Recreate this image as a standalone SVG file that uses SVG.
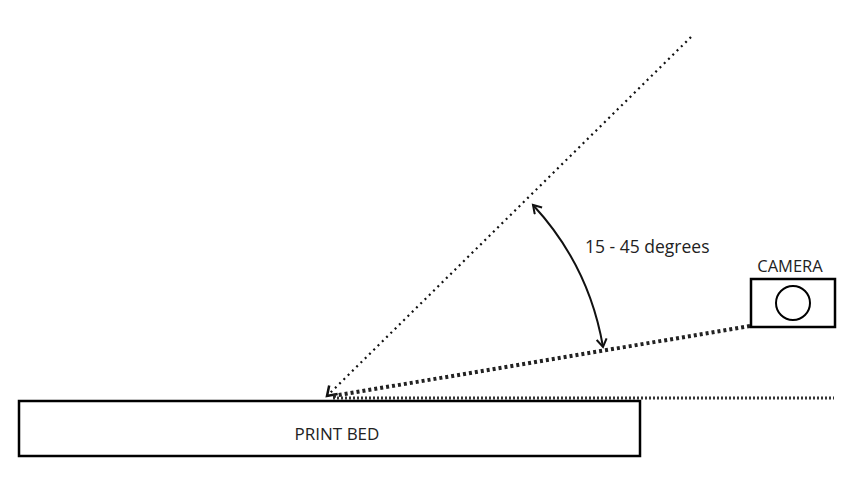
<svg xmlns="http://www.w3.org/2000/svg" width="842" height="478" viewBox="0 0 842 478">
<style>
text{font-family:"Open Sans","Liberation Sans",sans-serif;fill:#222}
.box{fill:#fff;stroke:#000;stroke-width:2.5}
.thin{stroke:#111;stroke-width:2.2;stroke-dasharray:2 4;fill:none}
.thick{stroke:#222;stroke-width:4;stroke-dasharray:3 3;fill:none}
.hline{stroke:#333;stroke-width:3;stroke-dasharray:2 2;fill:none}
.arc{stroke:#111;stroke-width:2;fill:none}
</style>
<defs>
<marker id="chev" markerWidth="12" markerHeight="12" refX="9" refY="6" orient="auto-start-reverse" markerUnits="userSpaceOnUse">
<path d="M1,1 L9,6 L1,11" fill="none" stroke="#111" stroke-width="2"/>
</marker>
<marker id="chev2" markerWidth="16" markerHeight="16" refX="11" refY="8" orient="auto" markerUnits="userSpaceOnUse">
<path d="M2,2 L11,8 L2,14" fill="none" stroke="#111" stroke-width="2.5"/>
</marker>
</defs>
<g id="connectors">
<line class="hline" x1="333" y1="398" x2="834" y2="398"/>
<line class="thin" x1="691" y1="37" x2="327" y2="396" marker-end="url(#chev2)"/>
<line class="thick" x1="750" y1="326" x2="333" y2="396"/>
<path class="arc" d="M533,205 A278,278 0 0 1 603,347" marker-start="url(#chev)" marker-end="url(#chev)"/>
</g>
<g id="print-bed">
<rect class="box" x="19" y="401" width="621" height="55"/>
<text x="337" y="440" font-size="17" text-anchor="middle">PRINT BED</text>
</g>
<g id="camera">
<rect class="box" x="751" y="279" width="84" height="48"/>
<circle cx="793" cy="303" r="17" fill="none" stroke="#000" stroke-width="2"/>
<text x="790" y="272" font-size="16.5" text-anchor="middle">CAMERA</text>
</g>
<g id="angle-label">
<text x="585" y="253" font-size="17.5">15 - 45 degrees</text>
</g>
</svg>
